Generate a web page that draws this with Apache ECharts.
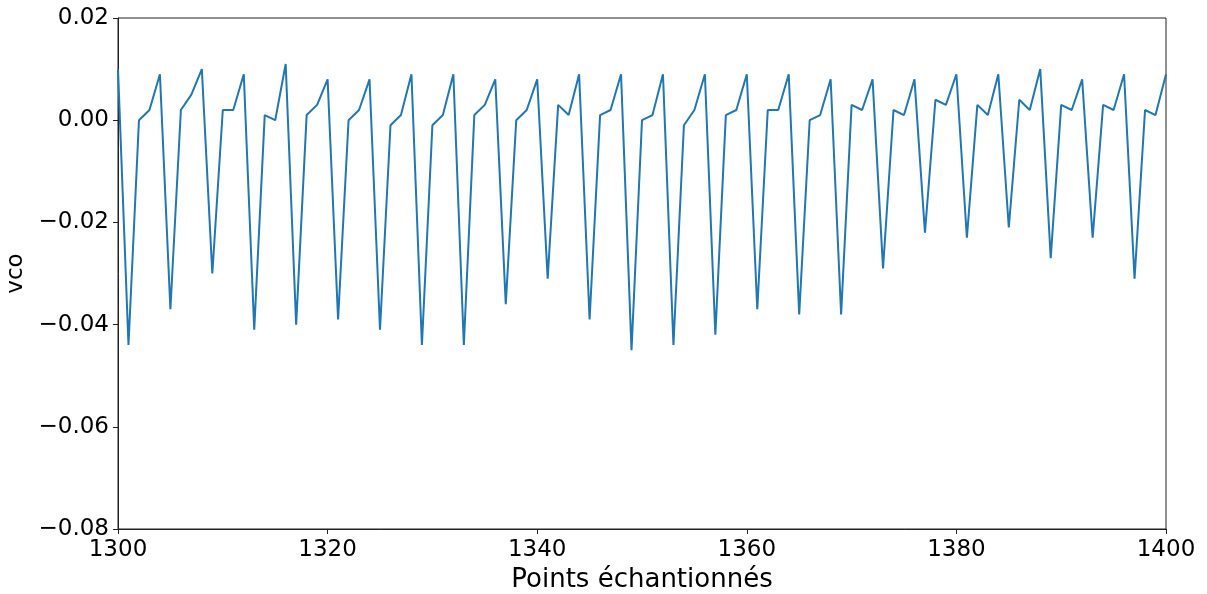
<!DOCTYPE html>
<html>
<head>
<meta charset="utf-8">
<script src="https://cdn.jsdelivr.net/npm/echarts@6/dist/echarts.min.js"></script>
<style>
  html, body { margin: 0; padding: 0; background: #fff; }
  #chart { width: 1207px; height: 594px; }
</style>
</head>
<body>
<div id="chart"></div>
<script>
// Sample indices 1300..1400
const samples = [];
for (let i = 1300; i <= 1400; i++) samples.push(i);

// VCO values per sample
const vco = [
  0.010, -0.044, 0.000, 0.002, 0.009, -0.037, 0.002, 0.005, 0.010, -0.030,
  0.002, 0.002, 0.009, -0.041, 0.001, 0.000, 0.011, -0.040, 0.001, 0.003,
  0.008, -0.039, 0.000, 0.002, 0.008, -0.041, -0.001, 0.001, 0.009, -0.044,
  -0.001, 0.001, 0.009, -0.044, 0.001, 0.003, 0.008, -0.036, 0.000, 0.002,
  0.008, -0.031, 0.003, 0.001, 0.009, -0.039, 0.001, 0.002, 0.009, -0.045,
  0.000, 0.001, 0.009, -0.044, -0.001, 0.002, 0.009, -0.042, 0.001, 0.002,
  0.009, -0.037, 0.002, 0.002, 0.009, -0.038, 0.000, 0.001, 0.008, -0.038,
  0.003, 0.002, 0.008, -0.029, 0.002, 0.001, 0.008, -0.022, 0.004, 0.003,
  0.009, -0.023, 0.003, 0.001, 0.009, -0.021, 0.004, 0.002, 0.010, -0.027,
  0.003, 0.002, 0.008, -0.023, 0.003, 0.002, 0.009, -0.031, 0.002, 0.001,
  0.009
];

const xTicks = { min: 1300, max: 1400, step: 20 };
const yTicks = { min: -0.08, max: 0.02, step: 0.02 };

const fontFamily = 'DejaVu Sans';
const points = samples.map((s, i) => [s, vco[i]]);

const chart = echarts.init(document.getElementById('chart'), null, { renderer: 'canvas' });
chart.setOption({
  animation: false,
  backgroundColor: '#ffffff',
  grid: {
    left: 118, right: 41, top: 18, bottom: 65,
    containLabel: false,
    outerBoundsMode: 'none',
    show: true, borderColor: '#222', borderWidth: 1, backgroundColor: 'transparent'
  },
  xAxis: {
    type: 'value',
    min: xTicks.min, max: xTicks.max, interval: xTicks.step,
    name: 'Points échantionnés',
    nameLocation: 'middle',
    nameGap: 37,
    nameTextStyle: { fontFamily, fontSize: 26, color: '#000' },
    axisLine: { show: true, onZero: false, lineStyle: { color: '#222', width: 1 } },
    axisTick: { show: true, length: 5, inside: false, lineStyle: { color: '#222' } },
    axisLabel: {
      fontFamily, fontSize: 23, color: '#000', margin: 10,
      formatter: v => String(Math.round(v))
    },
    splitLine: { show: false }
  },
  yAxis: {
    type: 'value',
    min: yTicks.min, max: yTicks.max, interval: yTicks.step,
    name: 'vco',
    nameLocation: 'middle',
    nameGap: 87,
    nameRotate: 90,
    nameTextStyle: { fontFamily, fontSize: 23, color: '#000' },
    axisLine: { show: true, onZero: false, lineStyle: { color: '#222', width: 1 } },
    axisTick: { show: true, length: 5, inside: false, lineStyle: { color: '#222' } },
    axisLabel: {
      fontFamily, fontSize: 23, color: '#000', margin: 9,
      formatter: v => {
        const s = Math.abs(v) < 1e-9 ? '0.00' : v.toFixed(2);
        return s.replace('-', '\u2212');
      }
    },
    splitLine: { show: false }
  },
  series: [{
    type: 'line',
    data: points,
    showSymbol: false,
    symbol: 'none',
    lineStyle: { color: '#1f77b4', width: 2 },
    itemStyle: { color: '#1f77b4' }
  }]
});
</script>
</body>
</html>
